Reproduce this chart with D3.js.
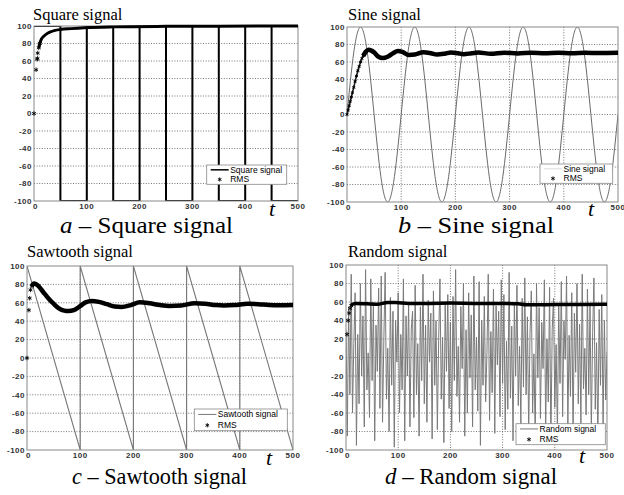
<!DOCTYPE html>
<html>
<head>
<meta charset="utf-8">
<script src="https://cdn.jsdelivr.net/npm/d3@7"></script>
<style>
  body { margin: 0; background: #fff; }
  svg { display: block; }
  .tick-label { font-family: "Liberation Sans", Arial, sans-serif; font-size: 8px; font-weight: bold; fill: #333; letter-spacing: 0.5px; }
  .legend-text { font-family: "Liberation Sans", Arial, sans-serif; font-size: 8.5px; fill: #000; }
  .serif { font-family: "Liberation Serif", "Times New Roman", serif; fill: #000; }
</style>
</head>
<body>
<script>
(function(d3) {
  "use strict";

  /***** Data *****/
  var yTicks = [100, 80, 60, 40, 20, 0, -20, -40, -60, -80, -100];
  var xTicks = [0, 100, 200, 300, 400, 500];

  var titles = ["Square signal", "Sine signal", "Sawtooth signal", "Random signal"];
  var captionLetters = ["a", "b", "c", "d"];

  // Square signal, breakpoints
  var squareT = [0, 50, 50, 100, 100, 150, 150, 200, 200, 250, 250, 300, 300, 350, 350, 400, 400, 450, 450, 500];
  var squareV = [100, 100, -100, -100, 100, 100, -100, -100, 100, 100, -100, -100, 100, 100, -100, -100, 100, 100, -100, -100];

  // Sine signal, read every 12.5 time units
  var sineT = d3.range(0, 500.1, 12.5);
  var sineV = [0, 71, 100, 71, 0, -71, -100, -71,
               0, 71, 100, 71, 0, -71, -100, -71,
               0, 71, 100, 71, 0, -71, -100, -71,
               0, 71, 100, 71, 0, -71, -100, -71,
               0, 71, 100, 71, 0, -71, -100, -71, 0];

  // Sawtooth signal, breakpoints
  var sawT = [0, 100, 100, 200, 200, 300, 300, 400, 400, 500];
  var sawV = [100, -100, 100, -100, 100, -100, 100, -100, 100, -100];

  // Random signal, estimated every 2.5 time units
  var randT = d3.range(0, 500.1, 2.5);
  var randV = [
    30, -85, 55, -40, 90, -60, 15, 70, -95, 25, -50, 80, -20, 45, -75, 95, -35, 5, -65, 85,
    -25, 60, -90, 35, -15, 75, -55, 88, -70, 20, 92, -45, 10, -80, 65, -30, 50, -97, 40, -5,
    70, -60, 25, -35, 85, -90, 45, -20, 60, -75, 30, 50, -65, 78, -40, 15, -85, 55, -25, 90,
    -50, 35, -70, 62, -5, 48, -88, 72, -30, 40, -78, 18, 85, -45, 22, -92, 58, -15, 68, -55,
    38, -80, 66, -25, 95, -42, 12, -70, 55, -12, 80, -85, 30, -60, 70, -22, 46, -75, 88, -35,
    22, -58, 82, -95, 40, -30, 66, -48, 5, 90, -68, 28, -38, 74, -82, 56, -8, 50, -64, 84,
    -28, 68, -78, 18, -56, 92, -44, 34, -90, 60, -20, 78, -52, 12, -72, 64, -32, 86, -40, 44,
    -82, 26, 72, -60, 4, -88, 80, -22, 54, -66, 38, -12, 84, -76, 20, -48, 76, -94, 30, 64,
    -54, 14, -84, 58, -28, 82, -64, 40, -2, 88, -74, 24, -42, 70, -86, 48, -16, 80, -50, 36,
    -72, 90, -34, 10, -62, 74, -40, 56, -80, 28, 86, -56, 16, -90, 52, -30, 68, -74, 40, -46,
    6
  ];

  // RMS estimates [t, value]
  var rmsSquare = [[0, 0], [4, 50], [6, 62], [6.5, 63], [7, 69], [9, 75], [11, 80], [14, 85], [18, 88], [24, 91],
                   [30, 93], [40, 95], [50, 96], [70, 97], [95, 98], [150, 99], [250, 99.6], [350, 99.8], [500, 100]];
  var rmsSine = [[0, 0], [2, 5], [4, 10], [6, 15], [8, 20], [10, 25], [12.5, 31], [15, 38], [17.5, 44], [20, 50],
                 [22.5, 55], [25, 60], [27.5, 64], [30, 67], [35, 72], [40, 74],
                 [45, 73], [50, 71], [58, 66], [66, 64.5], [75, 66], [85, 70], [94, 72.5], [102, 71.5], [114, 68],
                 [125, 68.5], [141, 71.2], [155, 70], [166, 68.5], [180, 69.5], [192, 71], [205, 70], [215, 69],
                 [230, 70], [242, 70.8], [265, 69.5], [290, 70.7], [315, 69.8], [340, 70.7], [365, 70],
                 [390, 70.6], [415, 70.1], [440, 70.6], [465, 70.2], [500, 70.5]];
  var rmsSaw = [[0, 0], [3.5, 52], [5, 65], [6.5, 74], [9, 78], [13, 81], [20, 79], [30, 72], [40, 65], [50, 59],
                [60, 54], [70, 51.5], [78, 51], [88, 52], [100, 56.5], [110, 60.5], [122, 62], [135, 61], [150, 58.5],
                [165, 56], [178, 55.5], [195, 57.5], [212, 60.5], [230, 59.5], [250, 57.5], [268, 56.5], [290, 57],
                [315, 59.5], [335, 59], [355, 57.5], [370, 57], [390, 57.5], [415, 59], [435, 58.5], [455, 57.5],
                [475, 57.3], [500, 57.5]];
  var rmsRand = [[2, 25], [4, 40], [6, 48], [8, 53], [10, 56], [14, 58], [20, 58.5], [40, 58], [60, 57.5],
                 [80, 59.5], [95, 59.5], [120, 58.5], [160, 58.5], [200, 58.8], [250, 58.5], [300, 58.5],
                 [330, 58], [345, 57], [400, 57.2], [450, 57.4], [500, 57.5]];

  /***** Layout and styles *****/
  var panels = [
    { plot: [34, 26, 298, 201], title: [33, 19.5], caption: [60, 233, 24, 173], tMark: [269, 216],
      legend: [206.7, 165, 80, 19.3],
      sigT: squareT, sigV: squareV, sigColor: "#000", sigWidth: 2, sigCurve: d3.curveLinear, legendLine: "#000",
      rms: rmsSquare, rmsWidth: 3, lineFrom: 9, thinLine: false, markSize: 14 },
    { plot: [347, 27, 618, 202], title: [348, 20], caption: [398, 233, 24, 156], tMark: [588, 216],
      legend: [540, 164, 72.7, 19.3],
      sigT: sineT, sigV: sineV, sigColor: "#6a6a6a", sigWidth: 1, sigCurve: d3.curveNatural, legendLine: "#ddd",
      rms: rmsSine, rmsWidth: 4.5, lineFrom: 28, thinLine: true, markSize: 9 },
    { plot: [27, 266, 293, 450], title: [27, 257], caption: [72, 484, 23, 175], tMark: [266, 465],
      legend: [194.3, 409, 93, 21.7],
      sigT: sawT, sigV: sawV, sigColor: "#777", sigWidth: 1.1, sigCurve: d3.curveLinear, legendLine: "#777",
      rms: rmsSaw, rmsWidth: 4.5, lineFrom: 8, thinLine: false, markSize: 14 },
    { plot: [346, 265, 607, 450], title: [348, 257], caption: [385, 484, 23, 172], tMark: [579, 463],
      legend: [516, 423.7, 89.3, 21],
      sigT: randT, sigV: randV, sigColor: "#7a7a7a", sigWidth: 1, sigCurve: d3.curveLinear, legendLine: "#777",
      rms: rmsRand, rmsWidth: 3.5, lineFrom: 9, thinLine: false, markSize: 14 }
  ];

  var svg = d3.select("body").append("svg")
    .attr("width", 624)
    .attr("height", 495);

  var defs = svg.append("defs");

  panels.forEach(function(p, i) {
    var x = d3.scaleLinear().domain([0, 500]).range([p.plot[0], p.plot[2]]);
    var y = d3.scaleLinear().domain([-100, 100]).range([p.plot[3], p.plot[1]]);
    var star = d3.symbol().type(d3.symbolAsterisk).size(p.markSize);
    var g = svg.append("g");

    defs.append("clipPath").attr("id", "clip" + i)
      .append("rect")
      .attr("x", p.plot[0]).attr("y", p.plot[1])
      .attr("width", p.plot[2] - p.plot[0]).attr("height", p.plot[3] - p.plot[1]);

    // Grid
    g.append("g").selectAll("line").data(yTicks.filter(function(v) { return Math.abs(v) < 100; }))
      .enter().append("line")
      .attr("x1", p.plot[0]).attr("x2", p.plot[2])
      .attr("y1", function(v) { return y(v); }).attr("y2", function(v) { return y(v); })
      .attr("stroke", "#555").attr("stroke-width", 0.8).attr("stroke-dasharray", "1,1.6");
    g.append("g").selectAll("line").data(xTicks.filter(function(v) { return v > 0 && v < 500; }))
      .enter().append("line")
      .attr("y1", p.plot[1]).attr("y2", p.plot[3])
      .attr("x1", function(v) { return x(v); }).attr("x2", function(v) { return x(v); })
      .attr("stroke", "#555").attr("stroke-width", 0.8).attr("stroke-dasharray", "1,1.6");

    // Signal
    var sigLine = d3.line()
      .x(function(d) { return x(d[0]); })
      .y(function(d) { return y(d[1]); })
      .curve(p.sigCurve);
    g.append("path")
      .datum(d3.zip(p.sigT, p.sigV))
      .attr("clip-path", "url(#clip" + i + ")")
      .attr("fill", "none")
      .attr("stroke", p.sigColor)
      .attr("stroke-width", p.sigWidth)
      .attr("d", sigLine);

    // Frame
    g.append("rect")
      .attr("x", p.plot[0]).attr("y", p.plot[1])
      .attr("width", p.plot[2] - p.plot[0]).attr("height", p.plot[3] - p.plot[1])
      .attr("fill", "none").attr("stroke", "#888").attr("stroke-width", 1);

    // RMS: thick line once the samples get dense, markers before that
    var rmsLine = d3.line()
      .x(function(d) { return x(d[0]); })
      .y(function(d) { return y(d[1]); })
      .curve(d3.curveMonotoneX);
    if (p.thinLine) {
      g.append("path")
        .datum(p.rms)
        .attr("fill", "none")
        .attr("stroke", "#222")
        .attr("stroke-width", 1.6)
        .attr("d", rmsLine);
    }
    g.append("path")
      .datum(p.rms.filter(function(d) { return d[0] >= p.lineFrom; }))
      .attr("fill", "none")
      .attr("stroke", "#000")
      .attr("stroke-width", p.rmsWidth)
      .attr("stroke-linejoin", "round")
      .attr("d", rmsLine);
    g.append("g").selectAll("path").data(p.rms.filter(function(d) { return d[0] < p.lineFrom + 4; }))
      .enter().append("path")
      .attr("transform", function(d) { return "translate(" + x(d[0]) + "," + y(d[1]) + ")"; })
      .attr("d", star)
      .attr("fill", "none").attr("stroke", "#000").attr("stroke-width", 0.9);

    // Tick labels
    g.append("g").selectAll("text").data(yTicks).enter().append("text")
      .attr("class", "tick-label")
      .attr("x", p.plot[0] - 2)
      .attr("y", function(v) { return y(v); })
      .attr("dy", "0.35em")
      .attr("text-anchor", "end")
      .text(function(v) { return v; });
    g.append("g").selectAll("text").data(xTicks).enter().append("text")
      .attr("class", "tick-label")
      .attr("x", function(v) { return x(v) + (v === 0 ? 1.5 : 0); })
      .attr("y", p.plot[3] + 7.5)
      .attr("text-anchor", "middle")
      .text(function(v) { return v; });

    // Legend
    var lg = g.append("g").attr("transform", "translate(" + p.legend[0] + "," + p.legend[1] + ")");
    var lh = p.legend[3];
    var row1 = lh * 0.25, row2 = lh * 0.75;
    lg.append("rect")
      .attr("width", p.legend[2]).attr("height", lh)
      .attr("fill", "#fff").attr("stroke", "#888").attr("stroke-width", 0.8);
    lg.append("line")
      .attr("x1", 4).attr("x2", 22).attr("y1", row1).attr("y2", row1)
      .attr("stroke", p.legendLine).attr("stroke-width", i === 0 ? 1.5 : 1);
    lg.append("text").attr("class", "legend-text")
      .attr("x", 23.5).attr("y", row1).attr("dy", "0.35em")
      .text(titles[i]);
    lg.append("path")
      .attr("transform", "translate(13," + row2 + ")")
      .attr("d", d3.symbol().type(d3.symbolAsterisk).size(12))
      .attr("fill", "none").attr("stroke", "#000").attr("stroke-width", 0.9);
    lg.append("text").attr("class", "legend-text")
      .attr("x", 23.5).attr("y", row2).attr("dy", "0.35em")
      .text("RMS");

    // Title, axis letter and caption
    g.append("text").attr("class", "serif")
      .attr("x", p.title[0]).attr("y", p.title[1])
      .attr("font-size", 16.5)
      .text(titles[i]);
    g.append("text").attr("class", "serif")
      .attr("x", p.tMark[0]).attr("y", p.tMark[1])
      .attr("font-size", 22).attr("font-style", "italic")
      .text("t");
    var cap = g.append("text").attr("class", "serif")
      .attr("x", p.caption[0]).attr("y", p.caption[1])
      .attr("font-size", p.caption[2])
      .attr("textLength", p.caption[3])
      .attr("lengthAdjust", "spacingAndGlyphs");
    cap.append("tspan").attr("font-style", "italic").text(captionLetters[i]);
    cap.append("tspan").text(" \u2013 " + titles[i]);
  });
})(d3);
</script>
</body>
</html>
